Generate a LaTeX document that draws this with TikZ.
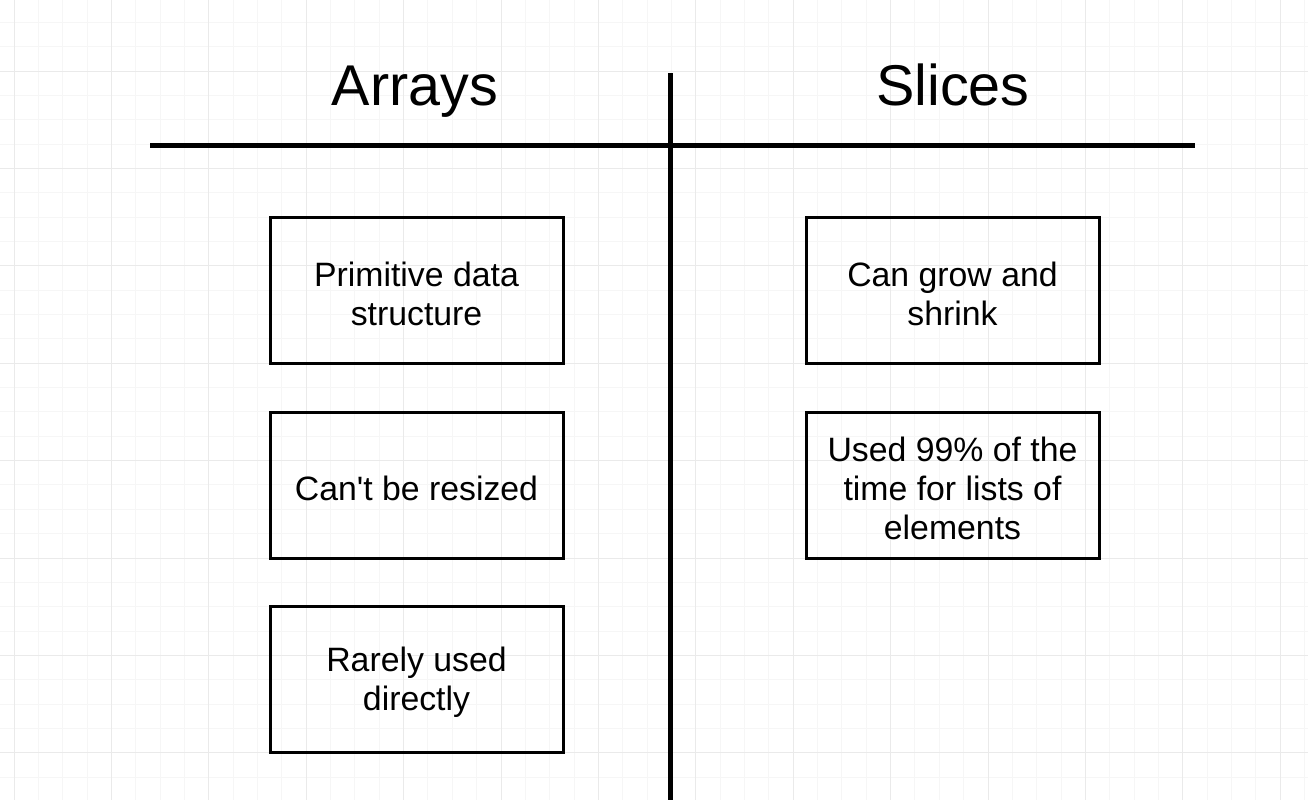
\documentclass[tikz,border=0pt]{standalone}
\usepackage{fontspec}
\setmainfont{Liberation Sans}[Ligatures=TeXOff]
\begin{document}
\begin{tikzpicture}[x=1pt,y=-1pt,
  gridminor/.style={draw={rgb,255:red,246;green,246;blue,246},line width=1pt},
  gridmajor/.style={draw={rgb,255:red,234;green,234;blue,234},line width=1pt},
  rule/.style={line width=5pt},
  card/.style={draw,line width=3pt,minimum width=293pt,minimum height=146pt,inner sep=0pt},
  cardtext/.style={align=center,font=\fontsize{33.8}{39}\selectfont,inner sep=0pt,yshift=-3pt},
  heading/.style={font=\fontsize{57.5}{66}\selectfont,inner sep=0pt,anchor=base}]
\useasboundingbox (0,0) rectangle (1308,800);
\fill[white] (0,0) rectangle (1308,800);
% background grid
\foreach \i in {-1,...,54} {
  \draw[gridminor] ({14+24.35*\i},0) -- ({14+24.35*\i},800);
}
\foreach \i in {-3,...,33} {
  \draw[gridminor] (0,{71+24.35*\i}) -- (1308,{71+24.35*\i});
}
\foreach \i in {0,...,13} {
  \draw[gridmajor] ({14+97.4*\i},0) -- ({14+97.4*\i},800);
}
\foreach \i in {-1,...,8} {
  \draw[gridmajor] (0,{71+97.4*\i}) -- (1308,{71+97.4*\i});
}
% column headings and dividers
\node[heading] (arrays) at (415,105) {Arrays};
\node[heading] (slices) at (953,105) {Slices};
\coordinate (hl) at (150,145);
\coordinate (hr) at (1195,145);
\coordinate (vt) at (670,73);
\coordinate (vb) at (670,800);
\draw[rule] (hl) -- (hr);
\draw[rule] (vt) -- (vb);
% cards
\node[card] (a1) at (416.5,290.5) {};
\node[card] (a2) at (416.5,485) {};
\node[card] (a3) at (416.5,679.5) {};
\node[card] (s1) at (952.5,290.5) {};
\node[card] (s2) at (952.5,485) {};
\node[cardtext] (a1t) at (a1.center) {Primitive data\\structure};
\node[cardtext] (a2t) at (a2.center) {Can't be resized};
\node[cardtext] (a3t) at (a3.center) {Rarely used\\directly};
\node[cardtext] (s1t) at (s1.center) {Can grow and\\shrink};
\node[cardtext] (s2t) at (s2.center) {Used 99\% of the\\time for lists of\\elements};
\end{tikzpicture}
\end{document}
